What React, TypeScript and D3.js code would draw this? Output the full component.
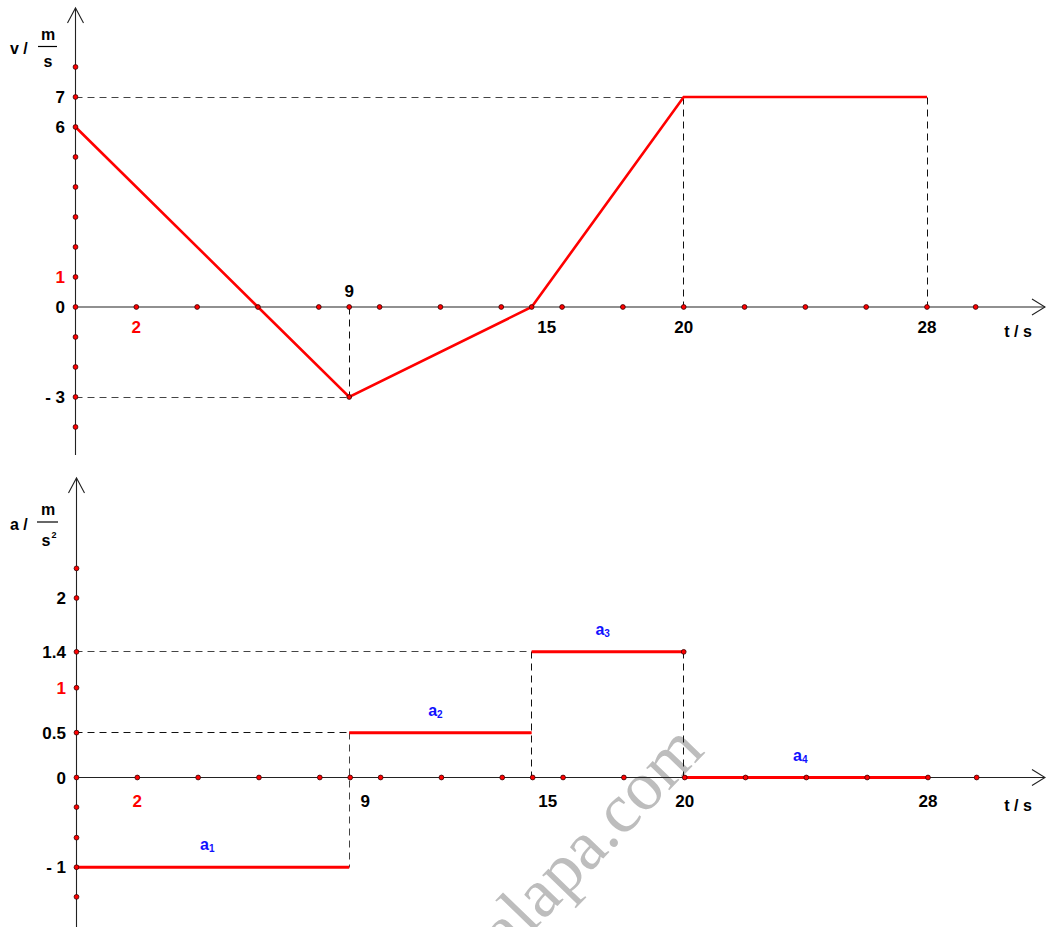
import * as d3 from "d3";

// velocity graph points
const velTimes = [0, 9, 15, 20, 28];
const velValues = [6, -3, 0, 7, 7];

// acceleration steps
const accStarts = [0, 9, 15, 20];
const accEnds = [9, 15, 20, 28];
const accValues = [-1, 0.5, 1.4, 0];
const accNames = ["1", "2", "3", "4"];

// grid dots
const tDots = [2, 4, 6, 8, 9, 10, 12, 14, 15, 16, 18, 20, 22, 24, 26, 28, 29.6];
const vDots = [-4, -3, -2, -1, 0, 1, 2, 3, 4, 5, 6, 7, 8];
const aDots = [2.33, 2, 1.4, 1, 0.5, 0, -0.33, -0.67, -1, -1.33];

// tick labels
const vTickValues = [7, 6, 1, 0, -3];
const vTickLabels = ["7", "6", "1", "0", "- 3"];
const aTickValues = [2, 1.4, 1, 0.5, 0, -1];
const aTickLabels = ["2", "1.4", "1", "0.5", "0", "- 1"];
const tTickValues = [2, 15, 20, 28];
const tTickLabels = ["2", "15", "20", "28"];

const FONT = "'Liberation Sans', Arial, sans-serif";
const RED = "#ff0000";
const AXIS = "#222";

// snap to pixel centre so thin dashes stay crisp
const px = (v: number) => Math.round(v - 0.5) + 0.5;

function Arrow({ x, y, dir }: { x: number; y: number; dir: "up" | "right" }) {
  const d =
    dir === "up"
      ? `M${x - 8},${y + 15}L${x},${y}L${x + 8},${y + 15}`
      : `M${x - 13},${y - 8}L${x},${y}L${x - 13},${y + 8}`;
  return <path d={d} fill="none" stroke={AXIS} strokeWidth={1.1} />;
}

function Dot({ cx, cy }: { cx: number; cy: number }) {
  return <circle cx={cx} cy={cy} r={2.4} fill={RED} stroke="#300" strokeWidth={0.8} />;
}

function Dash({ x1, y1, x2, y2, c = "#111" }: any) {
  return (
    <line
      x1={px(x1)}
      y1={px(y1)}
      x2={px(x2)}
      y2={px(y2)}
      stroke={c}
      strokeWidth={1}
      strokeDasharray="7,5"
    />
  );
}

export default function App() {
  const width = 1046;
  const height = 927;

  const x = d3.scaleLinear().domain([0, 28]).range([75.5, 927]);
  const vy = d3.scaleLinear().domain([0, 7]).range([307, 97]);
  const ay = d3.scaleLinear().domain([0, 2]).range([777.5, 598]);

  const velLine = d3
    .line<number>()
    .x((_, i) => x(velTimes[i]))
    .y((v) => vy(v));

  const x0 = x(0);
  const lbl = { fontFamily: FONT, fontWeight: 700, fontSize: 17 } as const;

  return (
    <svg
      width={width}
      height={height}
      style={{ position: "absolute", left: 0, top: 0, background: "#fff" }}
    >
      {/* watermark */}
      <text
        x={0}
        y={0}
        transform="translate(706,752) rotate(-46)"
        textAnchor="end"
        fontFamily="'Liberation Serif', 'DejaVu Serif', serif"
        fontSize={70}
        fill="#bdbdbd"
      >
        halapa.com
      </text>

      {/* ===== velocity chart ===== */}
      <g>
        {/* dashed guides */}
        <Dash x1={x0} y1={vy(7)} x2={x(20)} y2={vy(7)} c="#444" />
        <Dash x1={x(20)} y1={vy(7)} x2={x(20)} y2={vy(0)} />
        <Dash x1={x(28)} y1={vy(7)} x2={x(28)} y2={vy(0)} />
        <Dash x1={x0} y1={vy(-3)} x2={x(9)} y2={vy(-3)} c="#444" />
        <Dash x1={x(9)} y1={vy(0)} x2={x(9)} y2={vy(-3)} />

        {/* axes */}
        <line x1={x0} y1={vy(0)} x2={1045} y2={vy(0)} stroke={AXIS} strokeWidth={1.1} />
        <Arrow x={1045} y={vy(0)} dir="right" />
        <line x1={x0} y1={455} x2={x0} y2={8} stroke={AXIS} strokeWidth={1.1} />
        <Arrow x={x0} y={8} dir="up" />

        <path d={velLine(velValues) ?? ""} fill="none" stroke={RED} strokeWidth={2.6} />

        {tDots.map((t) => (
          <Dot key={"vt" + t} cx={x(t)} cy={vy(0)} />
        ))}
        {vDots.map((v) => (
          <Dot key={"vv" + v} cx={x0} cy={vy(v)} />
        ))}
        <Dot cx={x(9)} cy={vy(-3)} />

        {vTickValues.map((v, i) => (
          <text
            key={"vl" + v}
            x={65}
            y={vy(v) + 6}
            textAnchor="end"
            {...lbl}
            fill={v === 1 ? RED : "#000"}
          >
            {vTickLabels[i]}
          </text>
        ))}
        {tTickValues.map((t, i) => (
          <text
            key={"tl" + t}
            x={x(t) + (t === 15 ? 15 : 0)}
            y={vy(0) + 26}
            textAnchor="middle"
            {...lbl}
            fill={t === 2 ? RED : "#000"}
          >
            {tTickLabels[i]}
          </text>
        ))}
        <text x={x(9)} y={vy(0) - 10} textAnchor="middle" {...lbl}>
          9
        </text>
        <text x={1018} y={vy(0) + 30} textAnchor="middle" {...lbl} fontSize={16}>
          t / s
        </text>

        {/* v / (m/s) */}
        <text x={10} y={54} {...lbl} fontSize={16}>
          v /
        </text>
        <text x={48} y={40} textAnchor="middle" {...lbl} fontSize={16}>
          m
        </text>
        <line x1={38} y1={46.5} x2={57} y2={46.5} stroke="#000" strokeWidth={1.2} />
        <text x={48} y={67} textAnchor="middle" {...lbl} fontSize={16}>
          s
        </text>
      </g>

      {/* ===== acceleration chart ===== */}
      <g>
        {/* dashed guides */}
        <Dash x1={x0} y1={ay(1.4)} x2={x(15)} y2={ay(1.4)} c="#444" />
        <Dash x1={x(15)} y1={ay(1.4)} x2={x(15)} y2={ay(0)} />
        <Dash x1={x(20)} y1={ay(1.4)} x2={x(20)} y2={ay(0)} />
        <Dash x1={x0} y1={ay(0.5)} x2={x(9)} y2={ay(0.5)} />
        <Dash x1={x(9)} y1={ay(0.5)} x2={x(9)} y2={ay(-1)} c="#444" />

        {/* axes */}
        <line x1={x0} y1={ay(0)} x2={1045} y2={ay(0)} stroke={AXIS} strokeWidth={1.1} />
        <Arrow x={1045} y={ay(0)} dir="right" />
        <line x1={x0 + 1} y1={927} x2={x0 + 1} y2={478} stroke={AXIS} strokeWidth={1.1} />
        <Arrow x={x0 + 1} y={478} dir="up" />

        {accValues.map((a, i) => (
          <line
            key={"seg" + i}
            x1={x(accStarts[i])}
            y1={ay(a)}
            x2={x(accEnds[i])}
            y2={ay(a)}
            stroke={RED}
            strokeWidth={3}
          />
        ))}

        {tDots.map((t) => (
          <Dot key={"at" + t} cx={x(t) + 1} cy={ay(0)} />
        ))}
        {aDots.map((a) => (
          <Dot key={"aa" + a} cx={x0 + 1} cy={ay(a)} />
        ))}
        <Dot cx={x(20)} cy={ay(1.4)} />

        {aTickValues.map((a, i) => (
          <text
            key={"al" + a}
            x={66}
            y={ay(a) + 6}
            textAnchor="end"
            {...lbl}
            fill={a === 1 ? RED : "#000"}
          >
            {aTickLabels[i]}
          </text>
        ))}
        {tTickValues.map((t, i) => (
          <text
            key={"atl" + t}
            x={x(t) + (t === 15 ? 15 : 0) + 1}
            y={ay(0) + 29}
            textAnchor="middle"
            {...lbl}
            fill={t === 2 ? RED : "#000"}
          >
            {tTickLabels[i]}
          </text>
        ))}
        <text x={x(9) + 16} y={ay(0) + 29} textAnchor="middle" {...lbl}>
          9
        </text>
        <text x={1018} y={ay(0) + 33} textAnchor="middle" {...lbl} fontSize={16}>
          t / s
        </text>

        {accValues.map((a, i) => {
          const cx = (x(accStarts[i]) + x(accEnds[i])) / 2;
          return (
            <text
              key={"an" + i}
              x={cx - 5}
              y={ay(a) - 17}
              {...lbl}
              fontSize={16}
              fill="#1010ff"
              textAnchor="middle"
            >
              a
              <tspan fontSize={10} dy={2}>
                {accNames[i]}
              </tspan>
            </text>
          );
        })}

        {/* a / (m/s²) */}
        <text x={10} y={530} {...lbl} fontSize={16}>
          a /
        </text>
        <text x={48} y={515} textAnchor="middle" {...lbl} fontSize={16}>
          m
        </text>
        <line x1={37} y1={522} x2={58} y2={522} stroke="#000" strokeWidth={1.2} />
        <text x={46} y={546} textAnchor="middle" {...lbl} fontSize={16}>
          s
        </text>
        <text x={51.5} y={538} {...lbl} fontSize={9}>
          2
        </text>
      </g>
    </svg>
  );
}
